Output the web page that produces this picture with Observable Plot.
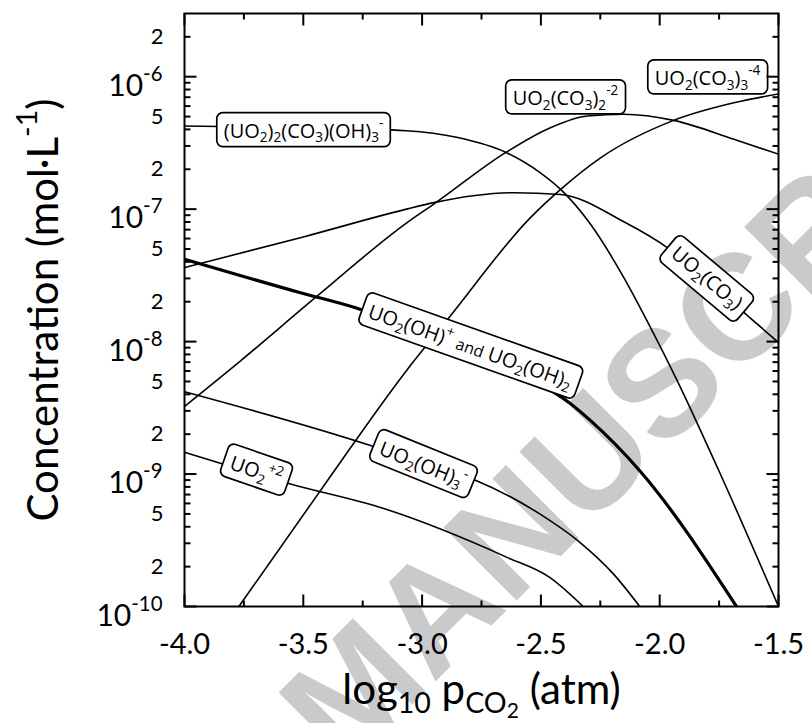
<!DOCTYPE html>
<html>
<head>
<meta charset="utf-8">
<script src="https://cdn.jsdelivr.net/npm/d3@7"></script>
<script src="https://cdn.jsdelivr.net/npm/@observablehq/plot@0.6"></script>
<style>
  html, body { margin: 0; padding: 0; background: #fff; overflow: hidden; }
  #chart svg { display: block; background: transparent; }
</style>
</head>
<body>
<div id="chart"></div>
<script>
// ---------------- data ----------------
// x = log10 pCO2 (atm), c = concentration (mol/L)
const xDimerCarb = [-4.0, -3.5, -3.066, -2.85, -2.645, -2.502, -2.417, -2.291, -2.151, -2.039, -1.926, -1.75, -1.5];
const cDimerCarb = [4.24e-7, 4.12e-7, 3.91e-7, 3.47e-7, 2.67e-7, 1.88e-7, 1.41e-7, 7.69e-8, 3.04e-8, 1.28e-8, 5.06e-9, 1.05e-9, 1.0e-10];

const xDiCarb = [-4.0, -3.764, -3.441, -3.066, -2.951, -2.649, -2.46, -2.305, -2.151, -1.941, -1.688, -1.5];
const cDiCarb = [3.24e-9, 7.16e-9, 2.21e-8, 7.85e-8, 1.09e-7, 2.67e-7, 4.12e-7, 5.05e-7, 5.20e-7, 4.68e-7, 3.37e-7, 2.60e-7];

const xTriCarb = [-3.771, -3.428, -3.066, -2.883, -2.544, -2.417, -2.249, -1.941, -1.688, -1.5];
const cTriCarb = [1.0e-10, 7.50e-10, 6.03e-9, 1.55e-8, 8.63e-8, 1.41e-7, 2.44e-7, 4.68e-7, 6.35e-7, 7.41e-7];

const xMonoCarb = [-4.0, -3.5, -3.066, -2.951, -2.614, -2.417, -2.151, -1.968, -1.799, -1.632, -1.5];
const cMonoCarb = [3.62e-8, 6.17e-8, 1.0e-7, 1.12e-7, 1.33e-7, 1.29e-7, 8.04e-8, 5.13e-8, 2.88e-8, 1.58e-8, 9.84e-9];

const xHydroxo = [-4.0, -3.512, -3.28, -2.83, -2.375, -2.291, -2.084, -1.677];
const cHydroxo = [4.19e-8, 2.34e-8, 1.80e-8, 8.13e-9, 3.39e-9, 2.53e-9, 1.06e-9, 1.0e-10];

const xTriHydroxo = [-4.0, -3.217, -2.994, -2.771, -2.505, -2.336, -2.196, -2.084];
const cTriHydroxo = [4.18e-9, 1.64e-9, 1.20e-9, 8.91e-10, 5.00e-10, 3.05e-10, 1.77e-10, 1.0e-10];

const xUranyl = [-4.0, -3.554, -3.158, -2.645, -2.463, -2.322];
const cUranyl = [1.46e-9, 8.41e-10, 5.46e-10, 2.36e-10, 1.66e-10, 1.0e-10];

// curve labels (markup: {_x} subscript, {^x} superscript, {sx} small, {=x} sub-subscript)
const labelText = [
  "(UO{_2}){_2}(CO{_3})(OH){_3}{^-}",
  "UO{_2}(CO{_3}){_2}{^-2}",
  "UO{_2}(CO{_3}){_3}{^-4}",
  "UO{_2}(CO{_3})",
  "UO{_2}(OH){^+} {sand} UO{_2}(OH){_2}",
  "UO{_2}(OH){_3}{^-}",
  "UO{_2}{^+2}"
];
const labelX = [-3.499, -2.396, -1.798, -1.802, -2.795, -2.994, -3.697];
const labelY = [3.99e-7, 7.05e-7, 9.97e-7, 3.0e-8, 9.35e-9, 1.20e-9, 1.08e-9];
const labelAngle = [0, 0, 0, 40, 19.5, 22, 19];

// axes
const xDomain = [-4.0, -1.5];
const yDomain = [1e-10, 3e-6];
const xTickValues = [-4.0, -3.5, -3.0, -2.5, -2.0, -1.5];
const xTickLabels = ["-4.0", "-3.5", "-3.0", "-2.5", "-2.0", "-1.5"];
const xMinorTicks = [-3.75, -3.25, -2.75, -2.25, -1.75];
const yDecades = [1e-10, 1e-9, 1e-8, 1e-7, 1e-6];
const yDecadeLabels = ["10{^-10}", "10{^-9}", "10{^-8}", "10{^-7}", "10{^-6}"];
const yMinorLabelValues = [2e-10, 5e-10, 2e-9, 5e-9, 2e-8, 5e-8, 2e-7, 5e-7, 2e-6];
const yMinorLabels = ["2", "5", "2", "5", "2", "5", "2", "5", "2"];
const yMultipliers = [2, 3, 4, 5, 6, 7, 8, 9];
const xTitle = "log{_10} p{_CO}{=2} (atm)";
const yTitle = "Concentration (mol·L{^-1})";
const watermark = "MANUSCRIPT";

// ---------------- build tables ----------------
const thinSeries = [
  ["dimer", xDimerCarb, cDimerCarb],
  ["dicarb", xDiCarb, cDiCarb],
  ["tricarb", xTriCarb, cTriCarb],
  ["monocarb", xMonoCarb, cMonoCarb],
  ["trihydroxo", xTriHydroxo, cTriHydroxo],
  ["uranyl", xUranyl, cUranyl]
];
const thinRows = thinSeries.flatMap(([name, xs, cs]) => xs.map((x, i) => ({name, x, c: cs[i]})));
const thickRows = xHydroxo.map((x, i) => ({name: "hydroxo", x, c: cHydroxo[i]}));
const labels = labelText.map((t, i) => ({t, x: labelX[i], y: labelY[i], a: labelAngle[i]}));
const yMinorTicks = yDecades.flatMap(d => yMultipliers.map(k => k * d)).filter(v => v < yDomain[1] * 0.999);
const yMinorLabelRows = yMinorLabelValues.map((v, i) => ({v, t: yMinorLabels[i]}));
const xTickRows = xTickValues.map((v, i) => ({v, t: xTickLabels[i]}));
const yDecadeRows = yDecades.map((v, i) => ({v, t: yDecadeLabels[i]}));

const tickShape = {draw(context, l) { context.moveTo(0, 0); context.lineTo(0, -l); }};
const MAJ = 12, MIN = 6;
function ticks(values, side, len) {
  const opts = {length: len, anchor: "start", shape: tickShape, stroke: "black", strokeWidth: 2, strokeLinecap: "butt"};
  if (side === "bottom") return Plot.vector(values, {...opts, x: d => d, y: () => yDomain[0], rotate: 0});
  if (side === "top") return Plot.vector(values, {...opts, x: d => d, y: () => yDomain[1], rotate: 180});
  if (side === "left") return Plot.vector(values, {...opts, y: d => d, x: () => xDomain[0], rotate: 90});
  return Plot.vector(values, {...opts, y: d => d, x: () => xDomain[1], rotate: -90});
}

const AX = "Lato, 'DejaVu Sans', sans-serif";
const LB = "'Open Sans', 'DejaVu Sans', sans-serif";

const chart = Plot.plot({
  width: 812, height: 723,
  marginLeft: 184, marginRight: 34, marginTop: 13, marginBottom: 117,
  x: {domain: xDomain, axis: null},
  y: {type: "log", domain: yDomain, axis: null},
  style: {background: "transparent"},
  marks: [
    Plot.text([watermark], {text: d => d, frameAnchor: "bottom-left", dx: 160, dy: 166, rotate: -45,
      textAnchor: "start", lineAnchor: "bottom", fontSize: 150, fontWeight: "bold",
      fontFamily: "'Liberation Sans', Arial, sans-serif", fill: "#c9cacc"}),
    Plot.line(thinRows, {x: "x", y: "c", z: "name", curve: "monotone-x", stroke: "black", strokeWidth: 1.6, clip: true}),
    Plot.line(thickRows, {x: "x", y: "c", z: "name", curve: "monotone-x", stroke: "black", strokeWidth: 3.2, clip: true}),
    Plot.text(labels, {x: "x", y: "y", text: "t", rotate: "a", textAnchor: "middle", lineAnchor: "middle",
      fontSize: 20, fontFamily: LB, fill: "black"}),
    ticks(xTickValues, "bottom", MAJ), ticks(xMinorTicks, "bottom", MIN),
    ticks(xTickValues, "top", MAJ), ticks(xMinorTicks, "top", MIN),
    ticks(yDecades, "left", MAJ), ticks(yMinorTicks, "left", MIN),
    ticks(yDecades, "right", MAJ), ticks(yMinorTicks, "right", MIN),
    Plot.frame({stroke: "black", strokeWidth: 2}),
    Plot.text(xTickRows, {x: "v", y: () => yDomain[0], text: "t", dy: 47, lineAnchor: "bottom",
      textAnchor: "middle", fontSize: 29, fontFamily: AX, fill: "black"}),
    Plot.text(yDecadeRows, {x: () => xDomain[0], y: "v", text: "t", dx: -22, dy: 19, lineAnchor: "bottom",
      textAnchor: "end", fontSize: 30, fontFamily: AX, fill: "black"}),
    Plot.text(yMinorLabelRows, {x: () => xDomain[0], y: "v", text: "t", dx: -21, lineAnchor: "middle",
      textAnchor: "end", fontSize: 22, fontFamily: AX, fill: "black"}),
    Plot.text([xTitle], {text: d => d, frameAnchor: "bottom", dy: 97, lineAnchor: "bottom",
      textAnchor: "middle", fontSize: 42, fontFamily: AX, fill: "black"}),
    Plot.text([yTitle], {text: d => d, frameAnchor: "left", dx: -127, rotate: -90, lineAnchor: "bottom",
      textAnchor: "middle", fontSize: 42, fontFamily: AX, fill: "black"})
  ]
});

document.getElementById("chart").appendChild(chart);

// ---------------- rich text (sub/superscripts) ----------------
const NS = "http://www.w3.org/2000/svg";
const STY = {"_": [0.68, 0.22], "^": [0.68, -0.5], "s": [0.8, 0], "=": [0.5, 0.34]};
function richify(el) {
  const src = el.textContent;
  if (!src.includes("{")) return;
  const base = parseFloat(getComputedStyle(el).fontSize);
  el.textContent = "";
  const re = /\{([_^s=])([^}]*)\}|([^{]+)/g;
  let m, cur = 0;
  while ((m = re.exec(src))) {
    const plain = m[3] !== undefined;
    const [size, shift] = plain ? [1, 0] : STY[m[1]];
    const ts = document.createElementNS(NS, "tspan");
    ts.setAttribute("font-size", (size * base).toFixed(2));
    const dy = (shift - cur) * base;
    if (Math.abs(dy) > 0.01) ts.setAttribute("dy", dy.toFixed(2));
    cur = shift;
    ts.textContent = plain ? m[3] : m[2];
    el.appendChild(ts);
  }
}
chart.querySelectorAll("text").forEach(richify);

// ---------------- boxed curve labels ----------------
chart.querySelectorAll('g[font-family^="\'Open Sans\'"] text').forEach(t => {
  const bb = t.getBBox();
  const cx = bb.x + bb.width / 2, cy = bb.y + bb.height / 2;
  const tr = (t.getAttribute("transform") || "") + ` translate(${-cx},${-cy})`;
  t.setAttribute("transform", tr);
  const r = document.createElementNS(NS, "rect");
  const h = 34;
  r.setAttribute("transform", tr);
  r.setAttribute("x", bb.x - 7);
  r.setAttribute("y", cy - h / 2);
  r.setAttribute("width", bb.width + 14);
  r.setAttribute("height", h);
  r.setAttribute("rx", 6);
  r.setAttribute("fill", "white");
  r.setAttribute("stroke", "black");
  r.setAttribute("stroke-width", 1.7);
  t.parentNode.insertBefore(r, t);
});
</script>
</body>
</html>
